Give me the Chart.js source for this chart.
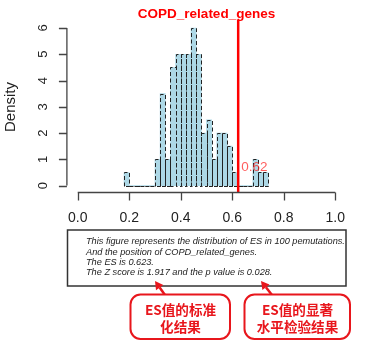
<!DOCTYPE html>
<html>
<head>
<meta charset="utf-8">
<script src="https://cdn.jsdelivr.net/npm/chart.js@4.4.0/dist/chart.umd.min.js"></script>
<style>
  html, body { margin: 0; padding: 0; background: #fff; }
  #wrap { position: relative; width: 381px; height: 345px; }
</style>
</head>
<body>
<div id="wrap"><canvas id="myChart"></canvas></div>
<script>
// histogram of ES over 100 permutations, bins of 0.02 (centres)
var binMids = [0.19,0.21,0.23,0.25,0.27,0.29,0.31,0.33,0.35,0.37,0.39,0.41,0.43,0.45,
               0.47,0.49,0.51,0.53,0.55,0.57,0.59,0.61,0.63,0.65,0.67,0.69,0.71,0.73];
var density = [0.5,0,0,0,0,0,1,3.5,1,4.5,5,5,5,6,
               5,2,2.5,1,2,2,1.5,0.5,0,0,0,1,0.5,0.5];
var binWidth = 0.02;

var xTicks = [0, 0.2, 0.4, 0.6, 0.8, 1.0];
var xTickLabels = ["0.0", "0.2", "0.4", "0.6", "0.8", "1.0"];
var yTicks = [0, 1, 2, 3, 4, 5, 6];

var geneSet = "COPD_related_genes";
var esValue = 0.623;
var esLabel = "0.62";
var yTitle = "Density";

var noteLines = [
  "This figure represents the distribution of ES in 100 pemutations.",
  "And the position of COPD_related_genes.",
  "The ES is 0.623.",
  "The Z score is 1.917 and the p value is 0.028."
];
var callout1 = ["ES值的标准", "化结果"];
var callout2 = ["ES值的显著", "水平检验结果"];

var FONT = "'Liberation Sans', Arial, sans-serif";
var CJK = "'Noto Sans CJK SC', 'Liberation Sans', sans-serif";

function arrow(ctx, x0, y0, x1, y1) {
  var a = Math.atan2(y1 - y0, x1 - x0);
  var hl = 8, hw = 4.5;
  var bx = x1 - hl * Math.cos(a), by = y1 - hl * Math.sin(a);
  ctx.beginPath();
  ctx.moveTo(x0, y0);
  ctx.lineTo(bx, by);
  ctx.stroke();
  ctx.beginPath();
  ctx.moveTo(x1, y1);
  ctx.lineTo(bx + hw * Math.sin(a), by - hw * Math.cos(a));
  ctx.lineTo(bx - hw * Math.sin(a), by + hw * Math.cos(a));
  ctx.closePath();
  ctx.fill();
}

function roundBox(ctx, x, y, w, h, r) {
  ctx.beginPath();
  ctx.moveTo(x + r, y);
  ctx.arcTo(x + w, y, x + w, y + h, r);
  ctx.arcTo(x + w, y + h, x, y + h, r);
  ctx.arcTo(x, y + h, x, y, r);
  ctx.arcTo(x, y, x + w, y, r);
  ctx.closePath();
}

var histPlugin = {
  id: 'histExtras',
  afterDatasetsDraw: function (chart) {
    var ctx = chart.ctx;
    var xs = chart.scales.x, ys = chart.scales.y;
    var area = chart.chartArea;
    var meta = chart.getDatasetMeta(0);

    // dashed bin borders, like R's hist(lty = 2)
    ctx.save();
    ctx.strokeStyle = '#222';
    ctx.lineWidth = 1;
    ctx.setLineDash([4, 2.5]);
    meta.data.forEach(function (bar) {
      var p = bar.getProps(['x', 'y', 'base', 'width'], true);
      var left = Math.round(p.x - p.width / 2) + 0.5;
      var right = Math.round(p.x + p.width / 2) + 0.5;
      var top = Math.round(p.y) + 0.5, bot = Math.round(p.base) + 0.5;
      ctx.beginPath();
      ctx.moveTo(left, bot);
      ctx.lineTo(left, top);
      ctx.lineTo(right, top);
      ctx.lineTo(right, bot);
      ctx.lineTo(left, bot);
      ctx.stroke();
    });
    ctx.restore();

    // ES position
    var ex = xs.getPixelForValue(esValue);
    ctx.save();
    ctx.strokeStyle = '#ff0000';
    ctx.lineWidth = 2.5;
    ctx.beginPath();
    ctx.moveTo(ex, area.top);
    ctx.lineTo(ex, area.bottom);
    ctx.stroke();
    ctx.fillStyle = 'rgba(255,40,40,0.75)';
    ctx.font = '13.5px ' + FONT;
    ctx.textAlign = 'left';
    ctx.textBaseline = 'middle';
    ctx.fillText(esLabel, ex + 3, ys.getPixelForValue(0.7));
    ctx.restore();
  },
  afterDraw: function (chart) {
    var ctx = chart.ctx;
    var xs = chart.scales.x, ys = chart.scales.y;
    var area = chart.chartArea;
    ctx.save();

    // title
    ctx.fillStyle = '#ff0000';
    ctx.font = 'bold 13.5px ' + FONT;
    ctx.textAlign = 'center';
    ctx.textBaseline = 'middle';
    ctx.fillText(geneSet, (area.left + area.right) / 2, 14);

    // x axis (R style, below the plot region)
    ctx.strokeStyle = '#444';
    ctx.lineWidth = 1.3;
    var ay = area.bottom + 0.5;
    ctx.beginPath();
    ctx.moveTo(xs.getPixelForValue(xTicks[0]), ay);
    ctx.lineTo(xs.getPixelForValue(xTicks[xTicks.length - 1]), ay);
    xTicks.forEach(function (t) {
      var px = Math.round(xs.getPixelForValue(t)) + 0.5;
      ctx.moveTo(px, ay);
      ctx.lineTo(px, ay + 8);
    });
    ctx.stroke();
    ctx.fillStyle = '#222';
    ctx.font = '14px ' + FONT;
    ctx.textAlign = 'center';
    ctx.textBaseline = 'middle';
    xTicks.forEach(function (t, i) {
      ctx.fillText(xTickLabels[i], xs.getPixelForValue(t), 218);
    });

    // y axis
    var ax = area.left - 0.5;
    ctx.beginPath();
    ctx.moveTo(ax, ys.getPixelForValue(yTicks[0]));
    ctx.lineTo(ax, ys.getPixelForValue(yTicks[yTicks.length - 1]));
    yTicks.forEach(function (t) {
      var py = Math.round(ys.getPixelForValue(t)) + 0.5;
      ctx.moveTo(ax, py);
      ctx.lineTo(ax - 8, py);
    });
    ctx.stroke();
    ctx.font = '13px ' + FONT;
    yTicks.forEach(function (t) {
      ctx.save();
      ctx.translate(43, ys.getPixelForValue(t));
      ctx.rotate(-Math.PI / 2);
      ctx.fillText(String(t), 0, 0);
      ctx.restore();
    });
    ctx.save();
    ctx.translate(11, 107);
    ctx.rotate(-Math.PI / 2);
    ctx.font = '15px ' + FONT;
    ctx.fillText(yTitle, 0, 0);
    ctx.restore();

    // description box
    ctx.strokeStyle = '#333';
    ctx.lineWidth = 1.5;
    ctx.strokeRect(67.5, 230, 278.5, 56);
    ctx.fillStyle = '#222';
    ctx.font = 'italic 9.2px ' + FONT;
    ctx.textAlign = 'left';
    noteLines.forEach(function (s, i) {
      ctx.fillText(s, 86, 241.7 + i * 10.35);
    });

    // callouts
    ctx.strokeStyle = '#e8161c';
    ctx.fillStyle = '#e8161c';
    ctx.lineWidth = 2.5;
    arrow(ctx, 165, 295, 155, 281);
    arrow(ctx, 272, 295, 261, 281);
    ctx.lineWidth = 2;
    roundBox(ctx, 130.5, 294.5, 99.5, 44.5, 10);
    ctx.fillStyle = '#fff';
    ctx.fill();
    ctx.stroke();
    roundBox(ctx, 244.5, 294.5, 105.5, 44.5, 10);
    ctx.fill();
    ctx.stroke();
    ctx.fillStyle = '#e8161c';
    ctx.font = 'bold 13.6px ' + CJK;
    ctx.textAlign = 'center';
    callout1.forEach(function (s, i) { ctx.fillText(s, 180.5, 310 + i * 16.7); });
    callout2.forEach(function (s, i) { ctx.fillText(s, 297.5, 310 + i * 16.7); });

    ctx.restore();
  }
};

var ctx = document.getElementById("myChart");

var myChart = new Chart(ctx, {
  type: 'bar',
  data: {
    datasets: [{
      label: 'Density',
      data: binMids.map(function (m, i) { return { x: m, y: density[i] }; }),
      backgroundColor: '#add8e6',
      borderWidth: 0,
      barPercentage: 1,
      categoryPercentage: 1
    }]
  },
  options: {
    responsive: true,
    maintainAspectRatio: false,
    devicePixelRatio: 1,
    animation: false,
    layout: { padding: { left: 67.4, right: 35.4, top: 20, bottom: 153 } },
    scales: {
      x: { type: 'linear', display: false, offset: false, min: -0.04, max: 1.04 },
      y: { type: 'linear', display: false, min: -0.243, max: 6.303 }
    },
    plugins: {
      legend: { display: false },
      tooltip: { enabled: false }
    }
  },
  plugins: [histPlugin]
});
</script>
</body>
</html>
